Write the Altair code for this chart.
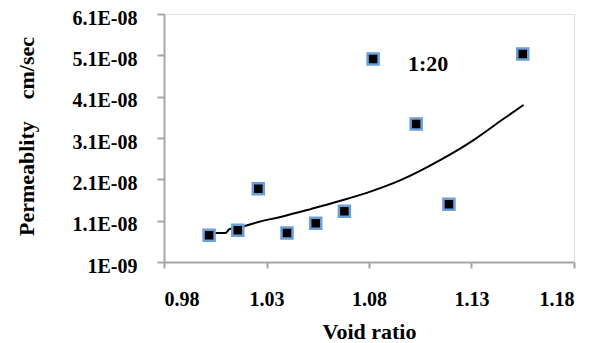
import altair as alt
import pandas as pd

# Measured points
void_ratio = [1.002, 1.016, 1.026, 1.040, 1.054, 1.068, 1.082, 1.103, 1.119, 1.155]
permeability = [0.75e-8, 0.87e-8, 1.87e-8, 0.80e-8, 1.04e-8, 1.33e-8, 5.01e-8, 3.44e-8, 1.50e-8, 5.13e-8]

# Trend line
trend_x = [1.0022, 1.0100, 1.0120, 1.0154, 1.0261, 1.0368, 1.0515, 1.0661, 1.0817, 1.0954, 1.1149, 1.1310, 1.1441, 1.1554]
trend_y = [0.80e-8, 0.80e-8, 0.90e-8, 0.92e-8, 1.07e-8, 1.19e-8, 1.38e-8, 1.58e-8, 1.82e-8, 2.08e-8, 2.57e-8, 3.05e-8, 3.51e-8, 3.90e-8]

x_ticks = [0.98, 1.03, 1.08, 1.13, 1.18]
y_ticks = [1e-9, 1.1e-8, 2.1e-8, 3.1e-8, 4.1e-8, 5.1e-8, 6.1e-8]
y_tick_labels = ["1E-09", "1.1E-08", "2.1E-08", "3.1E-08", "4.1E-08", "5.1E-08", "6.1E-08"]

annotation = ["1:20"]
annotation_x = [1.1088]
annotation_y = [4.89e-8]

pts = pd.DataFrame({"x": void_ratio, "y": permeability})
trend = pd.DataFrame({"x": trend_x, "y": trend_y})
ann = pd.DataFrame({"x": annotation_x, "y": annotation_y, "t": annotation})

label_expr = ""
for v, l in zip(y_ticks, y_tick_labels):
    label_expr += f"abs(datum.value - {v}) < 1e-12 ? '{l}' : "
label_expr += "''"

FONT = "Liberation Serif"
AX = "#a6a6a6"

xs = alt.Scale(domain=[0.98, 1.18], nice=False, zero=False)
ys = alt.Scale(domain=[1e-9, 6.1e-8], nice=False, zero=False)

x_axis = alt.Axis(
    values=x_ticks, format=".2f", title="Void ratio", grid=False,
    domainColor=AX, domainWidth=2, tickColor=AX, tickWidth=2, tickSize=6,
    labelFont=FONT, labelFontSize=20, labelFontWeight="bold", labelColor="black",
    labelPadding=21, titleFont=FONT, titleFontSize=22, titleFontWeight="bold",
    titleColor="black", titleY=76, titleBaseline="alphabetic",
)
y_axis = alt.Axis(
    values=y_ticks, labelExpr=label_expr,
    title="Permeablity\u00a0\u00a0\u00a0\u00a0cm/sec", grid=False,
    domainColor=AX, domainWidth=2, tickColor=AX, tickWidth=2, tickSize=7,
    labelFont=FONT, labelFontSize=20, labelFontWeight="bold", labelColor="black",
    labelPadding=20, labelOffset=4, titleFont=FONT, titleFontSize=22, titleFontWeight="bold",
    titleColor="black", titleX=-131, titleY=122, titleBaseline="alphabetic",
)

line = alt.Chart(trend).mark_line(color="black", strokeWidth=2, interpolate="monotone").encode(
    x=alt.X("x:Q", scale=xs, axis=x_axis),
    y=alt.Y("y:Q", scale=ys, axis=y_axis),
)
points = alt.Chart(pts).mark_square(
    size=121, color="black", filled=True, stroke="#6a9fd8", strokeWidth=2.5, opacity=1
).encode(x=alt.X("x:Q", scale=xs), y=alt.Y("y:Q", scale=ys))
text = alt.Chart(ann).mark_text(
    font=FONT, fontSize=22, fontWeight="bold", color="black", align="center", baseline="middle"
).encode(x=alt.X("x:Q", scale=xs), y=alt.Y("y:Q", scale=ys), text="t:N")

chart = alt.layer(line, points, text).properties(
    width=410, height=248,
    autosize=alt.AutoSizeParams(type="none"),
    padding={"left": 156, "top": 6, "right": 20, "bottom": 80},
).configure_view(stroke=None).configure(background="white")

chart.save("out.html", embed_options={"renderer": "svg", "actions": False})
